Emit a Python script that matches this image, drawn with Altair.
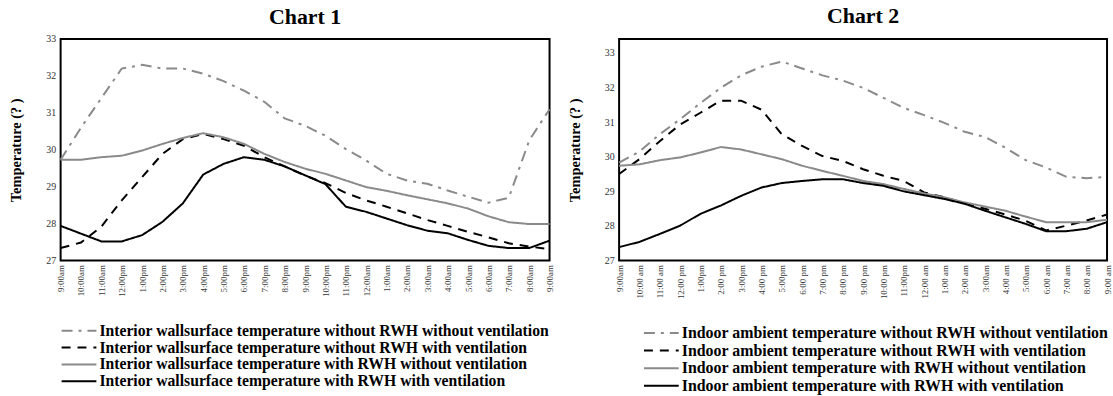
import altair as alt
import pandas as pd

# Hourly time axis (25 readings, 9:00 am to 9:00 am next day)
hours_chart1 = ["9:00am", "10:00am", "11:00am", "12:00pm", "1:00pm", "2:00pm", "3:00pm",
                "4:00pm", "5:00pm", "6:00pm", "7:00pm", "8:00pm", "9:00pm", "10:00pm",
                "11:00pm", "12:00am", "1:00am", "2:00am", "3:00am", "4:00am", "5:00am",
                "6:00am", "7:00am", "8:00am", "9:00am"]
hours_chart2 = ["9:00am", "10:00 am", "11:00 am", "12:00 pm", "1:00pm", "2:00 pm", "3:00pm",
                "4:00 pm", "5:00pm", "6:00 pm", "7:00 pm", "8:00 pm", "9:00 pm", "10:00 pm",
                "11:00pm", "12:00 am", "1:00 am", "2:00 am", "3:00am", "4:00 am", "5:00am",
                "6:00 am", "7:00 am", "8:00 am", "9:00 am"]

# Chart 1: interior wall surface temperature (deg C)
wall_no_rwh_no_vent = [29.73, 30.6, 31.4, 32.2, 32.3, 32.2, 32.2, 32.06, 31.86, 31.6, 31.3, 30.85,
                       30.65, 30.38, 30.02, 29.71, 29.35, 29.17, 29.08, 28.9, 28.73, 28.57, 28.7,
                       30.25, 31.1]
wall_no_rwh_vent = [27.34, 27.49, 27.92, 28.63, 29.26, 29.89, 30.29, 30.43, 30.29, 30.11, 29.8, 29.55,
                    29.3, 29.1, 28.83, 28.63, 28.46, 28.28, 28.1, 27.94, 27.78, 27.63, 27.47,
                    27.38, 27.31]
wall_rwh_no_vent = [29.73, 29.73, 29.8, 29.84, 29.98, 30.16, 30.32, 30.45, 30.34, 30.16, 29.89, 29.67,
                    29.49, 29.35, 29.17, 28.99, 28.89, 28.77, 28.66, 28.55, 28.41, 28.2, 28.04,
                    27.99, 27.99]
wall_rwh_vent = [27.94, 27.73, 27.52, 27.52, 27.69, 28.05, 28.55, 29.33, 29.62, 29.8, 29.73, 29.55,
                 29.31, 29.07, 28.46, 28.32, 28.14, 27.96, 27.81, 27.74, 27.56, 27.4, 27.34,
                 27.34, 27.54]

# Chart 2: indoor ambient temperature (deg C)
air_no_rwh_no_vent = [29.83, 30.15, 30.65, 31.08, 31.55, 31.99, 32.35, 32.6, 32.75, 32.55, 32.35, 32.2,
                      31.99, 31.7, 31.41, 31.2, 30.98, 30.72, 30.57, 30.26, 29.9, 29.69, 29.42,
                      29.38, 29.42]
air_no_rwh_vent = [29.5, 29.93, 30.45, 30.93, 31.27, 31.62, 31.62, 31.36, 30.65, 30.31, 30.02, 29.88,
                   29.64, 29.45, 29.3, 28.97, 28.83, 28.66, 28.5, 28.33, 28.15, 27.87, 28.01,
                   28.16, 28.33]
air_rwh_no_vent = [29.74, 29.78, 29.9, 29.98, 30.12, 30.28, 30.21, 30.07, 29.93, 29.74, 29.59, 29.45,
                   29.3, 29.21, 29.07, 28.94, 28.83, 28.68, 28.56, 28.44, 28.27, 28.11, 28.11,
                   28.11, 28.18]
air_rwh_vent = [27.39, 27.54, 27.77, 28.01, 28.35, 28.59, 28.87, 29.11, 29.24, 29.3, 29.35, 29.35,
                29.24, 29.16, 29.0, 28.89, 28.78, 28.64, 28.44, 28.25, 28.06, 27.85, 27.85,
                27.92, 28.11]

names_chart1 = [
    "Interior wallsurface temperature without RWH without ventilation",
    "Interior wallsurface temperature without RWH with ventilation",
    "Interior wallsurface temperature with RWH without ventilation",
    "Interior wallsurface temperature with RWH with ventilation",
]
names_chart2 = [
    "Indoor ambient temperature without RWH without ventilation",
    "Indoor ambient temperature without RWH with ventilation",
    "Indoor ambient temperature with RWH without ventilation",
    "Indoor ambient temperature with RWH with ventilation",
]

GRAY = "#8a8a8a"
colors = [GRAY, "black", GRAY, "black"]
dashes = [[11, 6, 3, 6], [9, 7], [1, 0], [1, 0]]
SERIF = "Liberation Serif"


def long_table(names, series):
    rows = []
    for name, values in zip(names, series):
        for i, v in enumerate(values):
            rows.append({"idx": i, "temp": v, "series": name})
    return pd.DataFrame(rows)


def panel(title, names, series, labels, y_max, width, height, legend_x,
          title_offset, legend_gap, legend_row, legend_font):
    df = long_table(names, series)
    color = alt.Color("series:N", scale=alt.Scale(domain=names, range=colors), legend=None)
    dash = alt.StrokeDash("series:N", scale=alt.Scale(domain=names, range=dashes), legend=None)
    label_expr = "[" + ",".join("'%s'" % s for s in labels) + "][datum.value]"

    lines = alt.Chart(df).mark_line(strokeWidth=2).encode(
        x=alt.X("idx:Q",
                scale=alt.Scale(domain=[0, len(labels) - 1], nice=False, zero=False),
                axis=alt.Axis(values=list(range(len(labels))), labelExpr=label_expr,
                              labelAngle=270, labelAlign="right", labelBaseline="middle",
                              labelFont=SERIF, labelFontSize=9, labelColor="#333333",
                              labelPadding=4, ticks=False, domain=False, grid=False,
                              title=None, labelOverlap=False, labelFlush=False)),
        y=alt.Y("temp:Q",
                scale=alt.Scale(domain=[27, y_max], nice=False, zero=False),
                axis=alt.Axis(values=[27, 28, 29, 30, 31, 32, 33], title="Temperature (? )",
                              titleFont=SERIF, titleFontSize=14.5, titleFontWeight="bold",
                              titleColor="black", titlePadding=22,
                              labelFont=SERIF, labelFontSize=10, labelColor="#333333",
                              labelPadding=5, ticks=False, domain=False, grid=False)),
        color=color,
        strokeDash=dash,
        order="idx:Q",
    ).properties(
        width=width, height=height,
        title=alt.TitleParams(title, font=SERIF, fontSize=22, fontWeight="bold",
                              color="black", anchor="middle", frame="group",
                              offset=title_offset),
        view=alt.ViewBackground(stroke="black", strokeWidth=2),
    )

    leg_df = pd.DataFrame({"series": names})
    leg_y = alt.Y("series:N", sort=names, scale=alt.Scale(domain=names), axis=None)
    leg_rule = alt.Chart(leg_df).mark_rule(strokeWidth=2).encode(
        x=alt.value(legend_x), x2=alt.value(legend_x + 35), y=leg_y,
        color=color, strokeDash=dash,
    )
    leg_text = alt.Chart(leg_df).mark_text(
        align="left", baseline="middle", font=SERIF, fontSize=legend_font, fontWeight="bold",
        color="black",
    ).encode(x=alt.value(legend_x + 38), y=leg_y, text="series:N")
    legend = alt.layer(leg_rule, leg_text).properties(
        width=width, height=legend_row * len(names),
        view=alt.ViewBackground(stroke="transparent"),
    )

    return alt.vconcat(lines, legend, spacing=legend_gap).resolve_scale(
        x="independent", y="independent", color="independent", strokeDash="independent")


left = panel("Chart 1", names_chart1,
             [wall_no_rwh_no_vent, wall_no_rwh_vent, wall_rwh_no_vent, wall_rwh_vent],
             hours_chart1, 33, 492, 223, 1,
             title_offset=5, legend_gap=23, legend_row=17, legend_font=15.8)
right = panel("Chart 2", names_chart2,
              [air_no_rwh_no_vent, air_no_rwh_vent, air_rwh_no_vent, air_rwh_vent],
              hours_chart2, 33.4, 491, 223, 25,
              title_offset=11, legend_gap=23, legend_row=17.7, legend_font=16)

chart = alt.hconcat(left, right, spacing=11).properties(
    padding={"left": 8, "top": 3, "right": 0, "bottom": 0},
    background="white",
).configure_view(stroke="black")

chart.save("out.html", embed_options={"renderer": "svg", "actions": False})
